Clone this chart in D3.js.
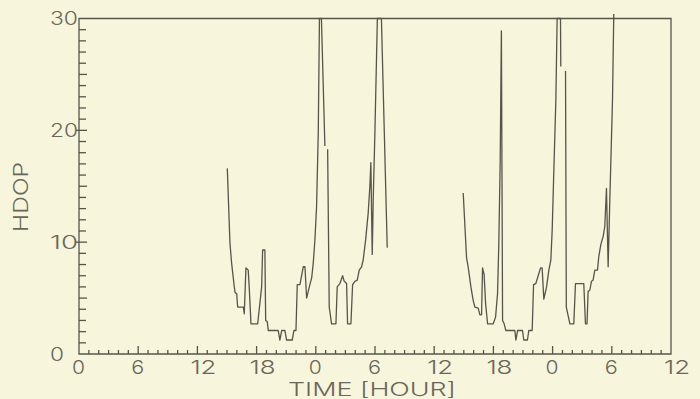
<!DOCTYPE html>
<html>
<head>
<meta charset="utf-8">
<script src="https://cdn.jsdelivr.net/npm/d3@7"></script>
<style>
  html, body { margin: 0; padding: 0; background: #f8f5dd; }
  svg { display: block; }
</style>
</head>
<body>
<div id="chart"></div>
<script>
// first pass: afternoon of day 1 to morning of day 2 (null = pen lifted / no fix)
var dayOneHours = [15.03, 15.30, 15.47, 15.70, 15.81, 15.98, 16.08, 16.65, 16.75, 16.92, 17.15, 17.25, 17.43,
  18.11, 18.51, 18.61, 18.84, 18.92, 19.08, 19.18, 20.19, 20.36, 20.54, 20.87, 21.04, 21.61, 21.78, 21.99,
  22.12, 22.39, 22.73, 22.90, 23.07, 23.40, 23.58, 23.74, 23.91, 24.08, 24.25, 24.37, 24.57, 24.92, 25.06,
  25.20, 25.36, 25.60, 26.04, 26.17, 26.44, 26.72, 26.88, 27.12, 27.22, 27.56, 27.73, 27.96, 28.20, 28.40,
  28.64, 28.80, 29.05, 29.31, 29.48, 29.58, 29.72, 29.82, 29.99, 30.24, 30.65, 31.24];
var dayOneHdop = [16.6, 9.9, 8.1, 6.3, 5.5, 5.4, 4.2, 4.2, 3.6, 7.7, 7.5, 6.0, 2.7,
  2.7, 6.0, 9.3, 9.3, 3.0, 2.9, 2.1, 2.1, 1.25, 2.1, 2.1, 1.25, 1.25, 2.1, 2.1,
  6.2, 6.2, 7.8, 7.8, 5.0, 6.2, 6.8, 8.1, 10.2, 13.2, 19.8, 30, 30, 18.6, null,
  18.3, 4.2, 2.7, 2.7, 6.0, 6.3, 7.0, 6.5, 6.3, 2.7, 2.7, 6.2, 6.5, 6.6, 7.5,
  7.8, 8.4, 10.2, 12.6, 15.0, 17.1, 8.9, 13.8, 19.8, 30, 30, 9.5];

// second pass, one day later
var dayTwoHours = [38.94, 39.28, 39.44, 39.72, 39.95, 40.12, 40.46, 40.63, 40.80, 40.90, 41.06, 41.21, 41.41,
  41.98, 42.22, 42.42, 42.55, 42.69, 42.81, 42.93, 43.09, 43.26, 44.17, 44.28, 44.45, 44.95, 45.08, 45.45,
  45.59, 45.93, 46.07, 46.30, 46.54, 46.78, 46.94, 47.11, 47.39, 47.62, 47.82, 47.96, 48.10, 48.33, 48.46,
  48.80, 48.83, 49.07, 49.31, 49.39, 49.75, 50.15, 50.32, 51.16, 51.33, 51.49, 51.60, 51.77, 51.94, 52.10,
  52.28, 52.55, 52.68, 52.89, 53.12, 53.29, 53.46, 53.63, 53.80, 54.07, 54.20];
var dayTwoHdop = [14.4, 8.6, 7.8, 6.0, 4.8, 4.2, 4.1, 3.5, 3.5, 7.7, 7.1, 4.5, 2.7,
  2.7, 3.3, 5.4, 9.9, 17.4, 28.9, 3.0, 2.7, 2.1, 2.1, 1.25, 2.1, 2.1, 1.25, 1.25,
  2.1, 2.1, 6.2, 6.3, 7.0, 7.7, 7.7, 4.9, 6.0, 7.5, 8.4, 11.1, 15.6, 22.7, 30,
  30, 25.7, null, 25.3, 4.2, 2.7, 2.7, 6.3, 6.3, 2.7, 2.7, 5.6, 5.7, 6.5, 6.6,
  7.5, 7.5, 8.7, 9.8, 10.5, 11.4, 14.8, 7.8, 13.8, 22.7, 30.4];

var xTickHours = [0, 6, 12, 18, 24, 30, 36, 42, 48, 54, 60];
var xTickLabels = ["0", "6", "12", "18", "0", "6", "12", "18", "0", "6", "12"];
var yTickValues = [0, 10, 20, 30];

var width = 700, height = 399;
var ink = "#56554a", textInk = "#68675a";

var x = d3.scaleLinear().domain([0, 60]).range([79, 671]);
var y = d3.scaleLinear().domain([0, 30]).range([354, 18.5]);

var svg = d3.select("#chart")
  .append("svg")
  .attr("width", width)
  .attr("height", height);

svg.append("rect")
  .attr("width", width)
  .attr("height", height)
  .attr("fill", "#f8f5dd");

// frame: left axis, top, right, baseline
var frame = svg.append("g")
  .attr("stroke", ink)
  .attr("stroke-width", 1.3)
  .attr("fill", "none");

frame.append("path")
  .attr("d", "M" + x(0) + "," + y(0) + "V" + y(30) + "H" + x(60) + "V" + y(0) + "Z");

// y ticks every unit, pointing inward; labelled ones cross the axis
frame.selectAll("line.ymin")
  .data(d3.range(1, 30))
  .enter()
  .append("line")
  .attr("class", "ymin")
  .attr("x1", x(0))
  .attr("x2", function(d){ return x(0) + (d % 5 === 0 ? 8 : 7); })
  .attr("y1", function(d){ return y(d); })
  .attr("y2", function(d){ return y(d); });

frame.selectAll("line.ymaj")
  .data(yTickValues.filter(function(d){ return d > 0 && d < 30; }))
  .enter()
  .append("line")
  .attr("class", "ymaj")
  .attr("x1", x(0) - 3)
  .attr("x2", x(0))
  .attr("y1", function(d){ return y(d); })
  .attr("y2", function(d){ return y(d); });

// x ticks every hour, upward; longer every 6 hours
frame.selectAll("line.xt")
  .data(d3.range(1, 60))
  .enter()
  .append("line")
  .attr("class", "xt")
  .attr("x1", function(d){ return x(d); })
  .attr("x2", function(d){ return x(d); })
  .attr("y1", y(0))
  .attr("y2", function(d){ return y(0) - (d % 6 === 0 ? 8 : 4); });

// labels, thin and stretched a bit to look like the plotter lettering
var font = "Inter, Roboto, 'DejaVu Sans', sans-serif";

svg.selectAll("text.ylab")
  .data(yTickValues)
  .enter()
  .append("text")
  .attr("class", "ylab")
  .attr("x", 50)
  .attr("y", function(d){ return y(d) + 6.5; })
  .attr("font-family", font)
  .attr("font-weight", 300)
  .attr("font-size", 18)
  .attr("fill", textInk)
  .attr("textLength", function(d){ return String(d).length * 14; })
  .attr("lengthAdjust", "spacingAndGlyphs")
  .text(function(d){ return d; });

svg.selectAll("text.xlab")
  .data(xTickHours)
  .enter()
  .append("text")
  .attr("class", "xlab")
  .attr("x", function(d){ return x(d) - 7; })
  .attr("y", 374)
  .attr("font-family", font)
  .attr("font-weight", 300)
  .attr("font-size", 19)
  .attr("fill", textInk)
  .attr("textLength", function(d, i){ return xTickLabels[i].length * 13; })
  .attr("lengthAdjust", "spacingAndGlyphs")
  .text(function(d, i){ return xTickLabels[i]; });

svg.append("text")
  .attr("x", 288)
  .attr("y", 396)
  .attr("font-family", font)
  .attr("font-weight", 300)
  .attr("font-size", 18)
  .attr("fill", textInk)
  .attr("textLength", 168)
  .attr("lengthAdjust", "spacingAndGlyphs")
  .text("TIME [HOUR]");

svg.append("text")
  .attr("transform", "translate(28,197) rotate(-90)")
  .attr("text-anchor", "middle")
  .attr("font-family", font)
  .attr("font-weight", 300)
  .attr("font-size", 20)
  .attr("fill", textInk)
  .attr("textLength", 70)
  .attr("lengthAdjust", "spacingAndGlyphs")
  .text("HDOP");

// the HDOP traces
var line = d3.line()
  .defined(function(d){ return d.v !== null; })
  .x(function(d){ return x(d.h); })
  .y(function(d){ return y(d.v); });

function pairs(hours, vals){
  return hours.map(function(h, i){ return { h: h, v: vals[i] }; });
}

svg.selectAll("path.trace")
  .data([pairs(dayOneHours, dayOneHdop), pairs(dayTwoHours, dayTwoHdop)])
  .enter()
  .append("path")
  .attr("class", "trace")
  .attr("d", line)
  .attr("fill", "none")
  .attr("stroke", ink)
  .attr("stroke-width", 1.3)
  .attr("stroke-linejoin", "round");
</script>
</body>
</html>
